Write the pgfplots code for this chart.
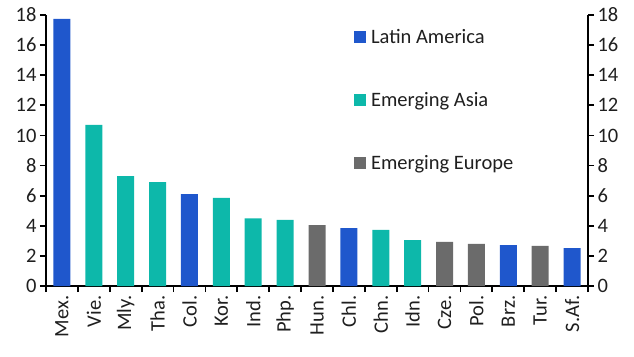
\documentclass[border=0pt]{standalone}
\usepackage{pgfplots}
\pgfplotsset{compat=1.18}
\usepackage{fontspec}
\setmainfont{Carlito}
\definecolor{cblue}{HTML}{1F57CC}
\definecolor{cteal}{HTML}{0DB8AA}
\definecolor{cgray}{HTML}{6B6B6B}
\begin{document}
\begin{tikzpicture}
\useasboundingbox (-46pt,-70pt) rectangle (588pt,286pt);
\pgfplotsset{common/.style={scale only axis, width=542pt, height=271pt,
  xmin=-0.5, xmax=16.5, ymin=0, ymax=18, ytick={0,2,...,18},
  tick label style={font=\fontsize{20.5}{24}\selectfont, text=black!88},
  /pgf/number format/assume math mode=true,
  axis line style={line width=2.6pt,-},
  major tick length=6pt, tick style={line width=1.8pt, black}, tick align=outside}}
\begin{axis}[common, axis x line*=bottom, axis y line*=left,
  ybar, bar width=17pt, bar shift=0pt,
  xtick={0,...,16},
  xticklabels={Mex.,Vie.,Mly.,Tha.,Col.,Kor.,Ind.,Php.,Hun.,Chl.,Chn.,Idn.,Cze.,Pol.,Brz.,Tur.,S.Af.},
  x tick label style={rotate=90, anchor=east},
  xtick style={draw=none},
  extra x ticks={-0.5,0.5,...,16.5}, extra x tick labels={},
  extra x tick style={xtick style={draw=black, line width=1.8pt}},
  legend style={at={(0.568,0.955)}, anchor=north west, draw=none, fill=none,
    font=\fontsize{20.5}{24}\selectfont, row sep=43.5pt, inner sep=0pt,
    text=black!88,
    /tikz/every odd column/.append style={column sep=3pt},
    legend cell align=left},
]
\addplot[fill=cblue, draw=none, legend image code/.code={\fill[cblue] (0pt,-6pt) rectangle (12pt,6pt);}]
  coordinates {(0,17.75) (4,6.1) (9,3.85) (14,2.72) (16,2.52)};
\addlegendentry{Latin America}
\addplot[fill=cteal, draw=none, legend image code/.code={\fill[cteal] (0pt,-6pt) rectangle (12pt,6pt);}]
  coordinates {(1,10.7) (2,7.3) (3,6.9) (5,5.85) (6,4.5) (7,4.4) (10,3.72) (11,3.05)};
\addlegendentry{Emerging Asia}
\addplot[fill=cgray, draw=none, legend image code/.code={\fill[cgray] (0pt,-6pt) rectangle (12pt,6pt);}]
  coordinates {(8,4.05) (12,2.93) (13,2.8) (15,2.67)};
\addlegendentry{Emerging Europe}
\end{axis}
\begin{axis}[common, axis x line=none, axis y line*=right]
\end{axis}
\end{tikzpicture}
\end{document}
